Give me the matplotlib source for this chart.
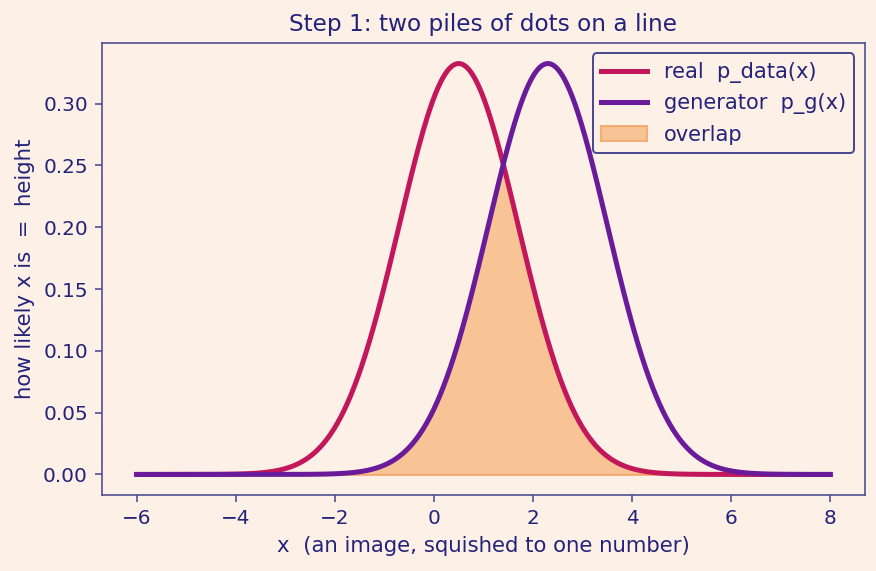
import numpy as np
import matplotlib
matplotlib.use("Agg")
import matplotlib.pyplot as plt

# distribution parameters
real_mean, real_sd = 0.5, 1.2
gen_mean, gen_sd = 2.3, 1.2
x_range = (-6, 8)
labels = ["real  p_data(x)", "generator  p_g(x)", "overlap"]

BG = "#fdf0e6"
TXT = "#24237a"
SP = "#4b4a90"
RED = "#c2185b"
PUR = "#6a1b9a"

def pdf(x, m, s):
    return np.exp(-0.5 * ((x - m) / s) ** 2) / (s * np.sqrt(2 * np.pi))

x = np.linspace(x_range[0], x_range[1], 800)
p_data = pdf(x, real_mean, real_sd)
p_g = pdf(x, gen_mean, gen_sd)

fig = plt.figure(figsize=(876 / 144, 571 / 144), dpi=144, facecolor=BG)
ax = fig.add_axes([0.1164, 0.1331, 0.871, 0.7916], facecolor=BG)
ax.plot(x, p_data, color=RED, lw=2.5, label=labels[0])
ax.plot(x, p_g, color=PUR, lw=2.5, label=labels[1])
ax.fill_between(x, 0, np.minimum(p_data, p_g), color="#f8b981", alpha=0.8,
                edgecolor="#f4a060", label=labels[2])

for s in ax.spines.values():
    s.set_color(SP)
ax.tick_params(colors=SP, labelcolor=TXT, labelsize=10)
ax.set_title("Step 1: two piles of dots on a line", color=TXT, fontsize=11.6)
ax.set_xlabel("x  (an image, squished to one number)", color=TXT, fontsize=10.6)
ax.set_ylabel("how likely x is  =  height", color=TXT, fontsize=10.6)
leg = ax.legend(loc="upper right", fontsize=10.5, facecolor=BG, edgecolor=SP,
                framealpha=1, handlelength=2.2)
for t in leg.get_texts():
    t.set_color(TXT)
fig.savefig("out.png", dpi=144, facecolor=BG)
